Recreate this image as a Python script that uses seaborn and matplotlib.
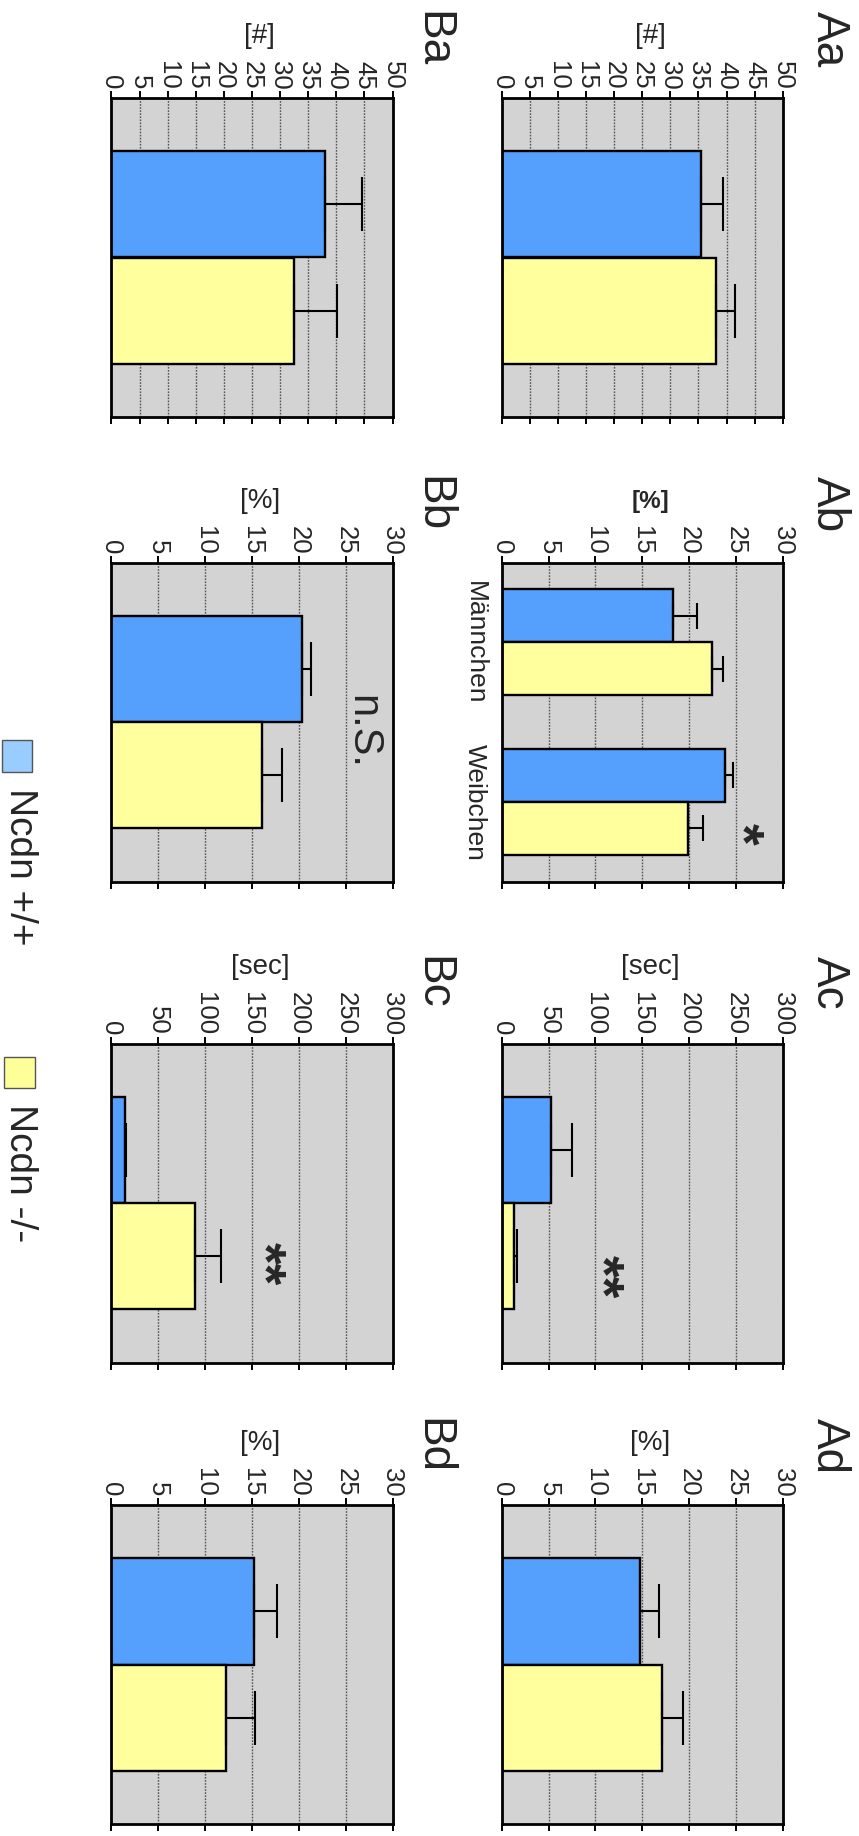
import matplotlib
matplotlib.use("Agg")
import matplotlib.pyplot as plt
import seaborn as sns
import pandas as pd
import numpy as np
from matplotlib.patches import Rectangle

sns.set_theme(style="white")
plt.rcParams['font.family'] = ['Liberation Sans', 'DejaVu Sans']

# ---- data -------------------------------------------------------------
genotypes = ["Ncdn +/+", "Ncdn -/-"]
bar_colors = ["#559FFD", "#FFFF9E"]
legend_colors = ["#99CCFF", "#FFFF99"]

panel_names = ["Aa", "Ab", "Ac", "Ad", "Ba", "Bb", "Bc", "Bd"]
units = ["[#]", "[%]", "[sec]", "[%]", "[#]", "[%]", "[sec]", "[%]"]
axis_max = [50, 30, 300, 30, 50, 30, 300, 30]
tick_step = [5, 5, 50, 5, 5, 5, 50, 5]

groups_single = ["alle"]
groups_sex = ["Männchen", "Weibchen"]

aa_wt, aa_wt_err, aa_ko, aa_ko_err = [35.5], [3.8], [38.1], [3.4]
ab_wt, ab_wt_err, ab_ko, ab_ko_err = [18.3, 23.8], [2.5, 0.9], [22.5, 19.9], [1.1, 1.6]
ac_wt, ac_wt_err, ac_ko, ac_ko_err = [52.3], [22.7], [13.2], [2.8]
ad_wt, ad_wt_err, ad_ko, ad_ko_err = [14.8], [2.0], [17.1], [2.3]
ba_wt, ba_wt_err, ba_ko, ba_ko_err = [38.0], [6.5], [32.4], [7.8]
bb_wt, bb_wt_err, bb_ko, bb_ko_err = [20.3], [1.0], [16.1], [2.1]
bc_wt, bc_wt_err, bc_ko, bc_ko_err = [14.2], [1.8], [89.0], [28.0]
bd_wt, bd_wt_err, bd_ko, bd_ko_err = [15.2], [2.5], [12.2], [3.1]

# significance annotations: panel, text, value position, category position
sig_panel = ["Ab", "Ac", "Bb", "Bc"]
sig_text = ["*", "**", "n.S.", "**"]
sig_x = [25.4, 104, 26.8, 160]
sig_y = [1.2, 0.23, 0.03, 0.19]

panel_data = {
    "Aa": (groups_single, aa_wt, aa_wt_err, aa_ko, aa_ko_err),
    "Ab": (groups_sex, ab_wt, ab_wt_err, ab_ko, ab_ko_err),
    "Ac": (groups_single, ac_wt, ac_wt_err, ac_ko, ac_ko_err),
    "Ad": (groups_single, ad_wt, ad_wt_err, ad_ko, ad_ko_err),
    "Ba": (groups_single, ba_wt, ba_wt_err, ba_ko, ba_ko_err),
    "Bb": (groups_single, bb_wt, bb_wt_err, bb_ko, bb_ko_err),
    "Bc": (groups_single, bc_wt, bc_wt_err, bc_ko, bc_ko_err),
    "Bd": (groups_single, bd_wt, bd_wt_err, bd_ko, bd_ko_err),
}

# ---- layout (pixels) -----------------------------------------------------
W, H = 859, 1836
fig = plt.figure(figsize=(W / 100, H / 100), dpi=100)

col_left = {"A": 501.7, "B": 111.5}
title_offset = {"A": 46, "B": 40}
row_top = [98, 562.7, 1043.5, 1505]
ax_w, ax_h = 281, 319


def fx(px):
    return px / W


def fy(py):
    return 1 - py / H


for i, name in enumerate(panel_names):
    col = name[0]
    row = i % 4
    left = col_left[col]
    top = row_top[row]
    ax = fig.add_axes([fx(left), fy(top + ax_h), ax_w / W, ax_h / H])

    groups, wt, wt_err, ko, ko_err = panel_data[name]
    df = pd.DataFrame({
        "group": groups * 2,
        "genotype": [genotypes[0]] * len(groups) + [genotypes[1]] * len(groups),
        "value": wt + ko,
    })
    sns.barplot(data=df, x="value", y="group", hue="genotype",
                hue_order=genotypes, palette=bar_colors, saturation=1,
                orient="h", width=0.665, edgecolor="black", linewidth=1.7,
                errorbar=None, legend=False, ax=ax, zorder=2)

    vmax = axis_max[i]
    ax.set_xlim(0, vmax)
    ax.set_ylim(len(groups) - 0.5, -0.5)
    ax.set_xticks(np.arange(0, vmax + tick_step[i] / 2, tick_step[i]))
    ax.set_facecolor("#D3D3D3")
    ax.set_axisbelow(True)
    ax.grid(axis="x", color="#555555", linestyle=(0, (1.2, 1.0)), linewidth=1.0)
    ax.grid(axis="y", visible=False)
    for sp in ax.spines.values():
        sp.set_visible(True)
        sp.set_color("black")
        sp.set_linewidth(2.0)

    ax.xaxis.tick_top()
    ax.tick_params(axis="x", top=True, bottom=True, labeltop=True,
                   labelbottom=False, direction="out", length=5, width=1.4,
                   color="black", labelsize=18.5, labelrotation=-90, pad=1)
    ax.xaxis.set_label_position("top")
    ax.set_xlabel(units[i], fontsize=17.5 if name == "Ab" else 20,
                  fontweight="bold" if name == "Ab" else "normal",
                  labelpad=13, x=0.528)
    ax.set_ylabel("")

    if name == "Ab":
        ax.tick_params(axis="y", left=False, labelleft=True, labelsize=19,
                       labelrotation=-90, pad=5)
        for lbl in ax.get_yticklabels():
            lbl.set_va("center")
            lbl.set_ha("right")
    else:
        ax.tick_params(axis="y", left=False, labelleft=False)

    # one-sided error bars at each bar end
    for cont, errs in zip(ax.containers, [wt_err, ko_err]):
        bars = list(cont)
        xs = np.array([b.get_width() for b in bars])
        ys = np.array([b.get_y() + b.get_height() / 2 for b in bars])
        bar_px = abs(ax.transData.transform((0, bars[0].get_height()))[1]
                     - ax.transData.transform((0, 0))[1])
        cap_pt = bar_px / 4 * 0.72
        ax.errorbar(xs, ys, xerr=[np.zeros(len(errs)), np.array(errs)],
                    fmt="none", ecolor="black", elinewidth=1.5,
                    capsize=cap_pt, capthick=1.5, zorder=3)
    ax.set_ylim(len(groups) - 0.5, -0.5)

    # significance marks
    for p, t, sx, sy in zip(sig_panel, sig_text, sig_x, sig_y):
        if p == name:
            bold = t != "n.S."
            ax.text(sx, sy, t, rotation=-90, ha="center", va="center",
                    fontsize=40 if bold else 30,
                    fontweight="bold" if bold else "normal", zorder=4)

    # panel title
    fig.text(fx(left + ax_w + title_offset[col]), fy(top - 87), name,
             rotation=-90, ha="center", va="top", fontsize=33)

# ---- legend --------------------------------------------------------------
leg_boxes = [(2, 740, 30, 32), (4, 1057, 31, 31)]
leg_text_top = [788, 1104]
for (bx, by, bw, bh), col, lbl, ty in zip(leg_boxes, legend_colors, genotypes,
                                        leg_text_top):
    fig.patches.append(Rectangle((fx(bx), fy(by + bh)), bw / W, bh / H,
                                 transform=fig.transFigure, facecolor=col,
                                 edgecolor="#555555", linewidth=1.0))
    fig.text(fx(20), fy(ty), lbl, rotation=-90, ha="center", va="top",
             fontsize=28)

fig.savefig("out.png", dpi=100)
